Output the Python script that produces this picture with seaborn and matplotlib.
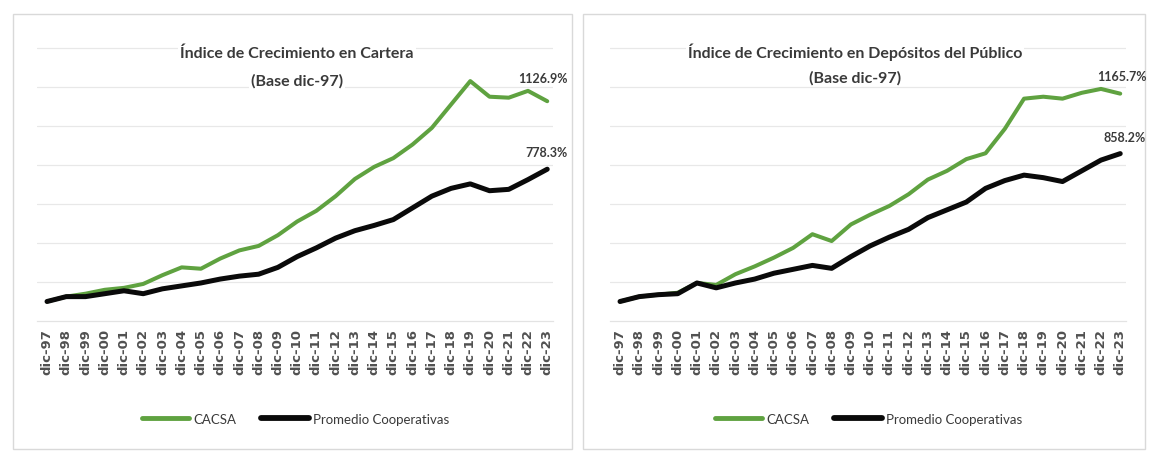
import matplotlib
matplotlib.use("Agg")
import matplotlib.pyplot as plt
import matplotlib.patches as mpatches
from matplotlib.lines import Line2D
import seaborn as sns
import pandas as pd

sns.set_theme(style="white")
plt.rcParams["font.family"] = ["Lato", "DejaVu Sans"]

years = list(range(1997, 2024))
tick_labels = [f"dic-{y % 100:02d}" for y in years]

# Índice de crecimiento en cartera (base dic-97 = 100)
cartera_cacsa = [100, 125, 140, 160, 170, 190, 235, 275, 268, 320, 362, 385, 440,
                 510, 565, 640, 728, 790, 835, 905, 990, 1110, 1230, 1150, 1145,
                 1180, 1126.9]
cartera_promedio = [100, 125, 125, 140, 155, 140, 165, 180, 195, 215, 230, 240, 275,
                    330, 375, 425, 463, 490, 520, 580, 640, 680, 703, 668, 675,
                    725, 778.3]

# Índice de crecimiento en depósitos del público (base dic-97 = 100)
depositos_cacsa = [100, 125, 135, 145, 195, 185, 240, 280, 325, 375, 445, 410, 495,
                   545, 590, 650, 725, 770, 830, 860, 985, 1140, 1150, 1140, 1170,
                   1190, 1165.7]
depositos_promedio = [100, 125, 135, 140, 195, 170, 195, 215, 245, 265, 285, 270, 330,
                      385, 430, 470, 530, 570, 610, 680, 720, 748, 735, 715, 770,
                      825, 858.2]

series_names = ["CACSA", "Promedio Cooperativas"]
colors = {"CACSA": "#5fa240", "Promedio Cooperativas": "#0a0a0a"}
widths = {"CACSA": 2.9, "Promedio Cooperativas": 3.6}
text_color = "#3a3a3a"

W, H = 1151, 456
fig = plt.figure(figsize=(W / 100, H / 100), dpi=100)
fig.patch.set_facecolor("white")


def fx(px):
    return px / W


def fy(py):
    return 1 - py / H


# panel frames
for x0, x1 in [(13, 572), (583, 1145)]:
    fig.patches.append(mpatches.Rectangle((fx(x0), fy(450)), fx(x1 - x0), (450 - 15) / H,
                                          transform=fig.transFigure, fill=False,
                                          edgecolor="#d9d9d9", linewidth=1.0))

panels = [
    dict(left=37.4, right=553, cacsa=cartera_cacsa, prom=cartera_promedio,
         title="Índice de Crecimiento en Cartera", tcx=297, ty=(54, 81),
         label_pos=[(543, 79), (546, 153)]),
    dict(left=610.4, right=1126, cacsa=depositos_cacsa, prom=depositos_promedio,
         title="Índice de Crecimiento en Depósitos del Público", tcx=855, ty=(52, 78),
         label_pos=[(1122, 77), (1125, 138)]),
]

top_px, zero_px = 39.2, 322
ymax = 1450

for p in panels:
    ax = fig.add_axes([fx(p["left"]), fy(zero_px), fx(p["right"] - p["left"]),
                       (zero_px - top_px) / H])
    df = pd.DataFrame({
        "año": years * 2,
        "valor": p["cacsa"] + p["prom"],
        "serie": [series_names[0]] * len(years) + [series_names[1]] * len(years),
    })
    for name in series_names:
        sns.lineplot(data=df[df["serie"] == name], x="año", y="valor", ax=ax,
                     color=colors[name], linewidth=widths[name], legend=False,
                     solid_capstyle="round", solid_joinstyle="round", zorder=3)
    ax.set_xlim(1996.5, 2023.3)
    ax.set_ylim(0, ymax)
    ax.set_yticks(range(200, 1401, 200))
    ax.set_yticklabels([])
    ax.yaxis.grid(True, color="#e8e8e8", linewidth=0.9)
    ax.set_xticks(years)
    ax.set_xticklabels(tick_labels, rotation=90, fontsize=9.5, color="#505050",
                       fontweight="bold", family=["DejaVu Sans"])
    ax.tick_params(axis="x", length=0, pad=5)
    ax.tick_params(axis="y", length=0)
    ax.set_xlabel("")
    ax.set_ylabel("")
    for s in ["top", "right", "left"]:
        ax.spines[s].set_visible(False)
    ax.spines["bottom"].set_color("#e3e3e3")
    ax.spines["bottom"].set_linewidth(0.9)

    for line, yy in zip([p["title"], "(Base dic-97)"], p["ty"]):
        fig.text(fx(p["tcx"]), fy(yy), line, ha="center", va="center",
                 fontsize=11.5, fontweight="bold", color=text_color,
                 bbox=dict(facecolor="white", edgecolor="none", pad=1.5), zorder=5)

    for vals, (lx, ly) in zip([p["cacsa"], p["prom"]], p["label_pos"]):
        fig.text(fx(lx), fy(ly), f"{vals[-1]:.1f}%", ha="center", va="center",
                 fontsize=9, fontweight="bold", color=text_color)

    handles = [Line2D([0], [0], color=colors[n], linewidth=widths[n] + 0.6)
               for n in series_names]
    ax.legend(handles, series_names, loc="center", ncol=2, frameon=False,
              bbox_to_anchor=(0.5, (zero_px - 420) / (zero_px - top_px)),
              fontsize=9.5, handlelength=3.6, handletextpad=0.3, columnspacing=1.9,
              labelcolor=text_color)

fig.savefig("out.png", dpi=100, facecolor="white")
